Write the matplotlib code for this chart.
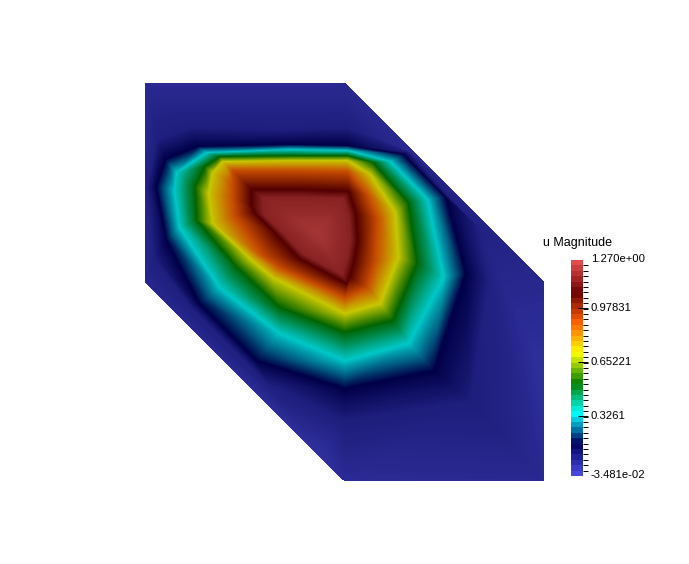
import numpy as np
import matplotlib
matplotlib.use("Agg")
import matplotlib.pyplot as plt
import matplotlib.tri as mtri
from matplotlib.colors import LinearSegmentedColormap, Normalize
from matplotlib.cm import ScalarMappable
from matplotlib.transforms import ScaledTranslation

plt.rcParams['font.family'] = ['Liberation Sans', 'DejaVu Sans']

vmin = -0.03481
vmax = 1.270
tick_values = [1.270, 0.97831, 0.65221, 0.3261, -0.03481]
tick_labels = ["1.270e+00", "0.97831", "0.65221", "0.3261", "-3.481e-02"]
bar_title = "u Magnitude"

# isolines, all with 13 points in the same order, clockwise from upper left
center = (318, 232)
center_value = 1.25
ring_values = [1.19, 1.084, 0.897, 0.71, 0.52, 0.338, 0.152]
outer_values = [0.05, 0.05, 0.05, 0.045, 0.04, 0.04, 0.055, 0.055, 0.05, 0.05, 0.05, 0.05, 0.05]
edge_values = [0.012, 0.012, 0.012, 0.012, 0.02, -0.008, 0.015, 0.01, -0.012, 0.02, 0.02, 0.02, 0.015]
ring_x = [
    [264, 303, 343, 348, 350, 347, 343, 342, 303, 285, 266, 264, 264],
    [252, 300, 348, 355, 357, 353, 349, 347, 300, 278, 255, 252, 252],
    [233, 290, 347, 367, 377, 375, 367, 345, 280, 263, 235, 233, 233],
    [223, 290, 347, 370, 395, 398, 380, 345, 273, 250, 213, 209, 213],
    [220, 290, 347, 373, 408, 417, 393, 345, 280, 237, 197, 195, 205],
    [207, 290, 347, 390, 427, 443, 408, 345, 280, 220, 180, 175, 177],
    [198, 290, 347, 403, 445, 465, 433, 345, 257, 200, 167, 157, 166],
    [190, 290, 347, 408, 480, 490, 470, 345, 270, 190, 155, 148, 158],
    [145, 245, 345, 445, 544, 544, 544, 345, 320, 190, 145, 145, 145],
]
ring_y = [
    [198, 198, 199, 216, 239, 257, 269, 274, 253, 234, 216, 210, 204],
    [190, 190, 192, 213, 240, 263, 277, 283, 258, 235, 212, 205, 198],
    [171, 171, 172, 195, 220, 260, 287, 297, 267, 255, 215, 197, 183],
    [162, 161, 161, 175, 213, 257, 303, 313, 277, 258, 223, 193, 173],
    [157, 156, 156, 163, 203, 263, 320, 332, 307, 267, 220, 187, 167],
    [153, 150, 151, 162, 200, 277, 343, 360, 333, 287, 227, 190, 173],
    [147, 145, 146, 155, 197, 273, 370, 388, 360, 303, 240, 187, 160],
    [128, 130, 128, 152, 230, 280, 400, 420, 385, 305, 258, 187, 140],
    [83, 83, 83, 183, 282, 381, 481, 481, 456.1, 326.8, 282, 200, 140],
]

jet_colors = [(71, 71, 219), (0, 0, 92), (0, 255, 255), (0, 128, 0),
              (255, 255, 0), (255, 97, 0), (107, 0, 0), (224, 76, 76)]
shade = 0.78  # surface is lit, so darker than the bar
bar_cmap = LinearSegmentedColormap.from_list("pv_jet", [(r/255, g/255, b/255) for r, g, b in jet_colors], N=512)
surf_cmap = LinearSegmentedColormap.from_list("pv_jet_lit", [(shade*r/255, shade*g/255, shade*b/255) for r, g, b in jet_colors], N=512)
norm = Normalize(vmin, vmax)

n = len(ring_x[0])
xs = [center[0]] + [v for r in ring_x for v in r]
ys = [center[1]] + [v for r in ring_y for v in r]
zs = [center_value] + [v for v in ring_values for _ in range(n)] + outer_values + edge_values

tris = []
for j in range(n):
    tris.append([0, 1 + j, 1 + (j + 1) % n])
for i in range(len(ring_x) - 1):
    for j in range(n):
        a = 1 + i * n + j
        b = 1 + i * n + (j + 1) % n
        c = a + n
        d = b + n
        tris.append([a, c, d])
        tris.append([a, d, b])

tri = mtri.Triangulation(xs, ys, tris)

fig = plt.figure(figsize=(6.89, 5.64), dpi=100)
ax = fig.add_axes([0, 0, 1, 1])
ax.tricontourf(tri, zs, levels=np.linspace(vmin, vmax, 500), cmap=surf_cmap, norm=norm, antialiased=False)
ax.set_xlim(0, 689)
ax.set_ylim(564, 0)
ax.axis("off")

cax = fig.add_axes([571/689, 1 - 476/564, 12/689, 216/564])
cb = fig.colorbar(ScalarMappable(norm=norm, cmap=bar_cmap.resampled(40)), cax=cax)
cb.outline.set_visible(False)
cax.set_yticks(tick_values, tick_labels)
cax.set_yticks(np.linspace(vmin, vmax, 41)[1:], minor=True)
cax.tick_params(axis="y", which="major", direction="inout", length=6.5, width=0.7, pad=2.5, labelsize=8.1)
cax.tick_params(axis="y", which="minor", direction="out", length=3.6, width=0.7)
majors = cax.yaxis.get_major_ticks()
majors[0].tick2line.set_visible(False)
majors[-1].tick2line.set_visible(False)
up = ScaledTranslation(0, 1.5/100, fig.dpi_scale_trans)
for t in cax.get_yticklabels():
    t.set_transform(t.get_transform() + up)
fig.text(543/689, 1 - 243/564, bar_title, fontsize=9, ha="left", va="center")

fig.savefig("out.png", dpi=100)
